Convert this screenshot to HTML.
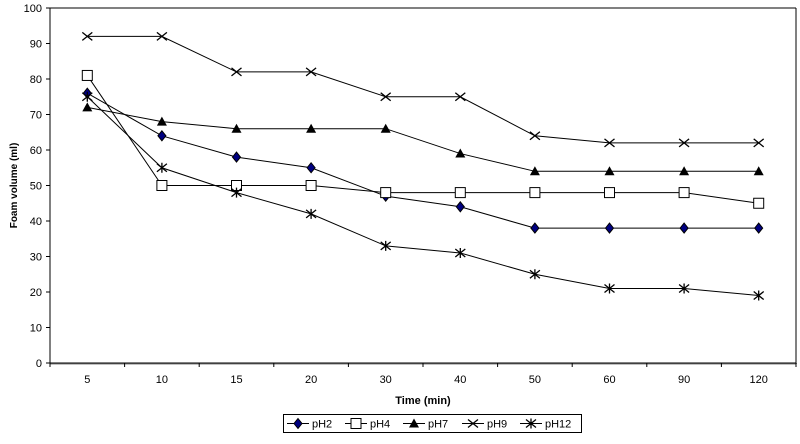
<!DOCTYPE html>
<html><head><meta charset="utf-8"><style>
body{margin:0;background:#fff;font-family:"Liberation Sans",Arial,sans-serif}
svg text{font-family:"Liberation Sans",Arial,sans-serif;font-size:11px;fill:#000}
</style></head><body>
<svg id="c" width="800" height="439" xmlns="http://www.w3.org/2000/svg"></svg>
<script>
const categories=["5","10","15","20","30","40","50","60","90","120"];
const yTicks=[0,10,20,30,40,50,60,70,80,90,100];
const seriesNames=["pH2","pH4","pH7","pH9","pH12"];
const pH2=[76,64,58,55,47,44,38,38,38,38];
const pH4=[81,50,50,50,48,48,48,48,48,45];
const pH7=[72,68,66,66,66,59,54,54,54,54];
const pH9=[92,92,82,82,75,75,64,62,62,62];
const pH12=[75,55,48,42,33,31,25,21,21,19];
const series=[pH2,pH4,pH7,pH9,pH12];
const markers=["diamond","square","triangle","x","star"];

const L=50,R=796,T=8,B=363;
const svg=document.getElementById('c');
const NS="http://www.w3.org/2000/svg";
const bw=(R-L)/categories.length;
const xs=i=>L+bw*(i+0.5);
const ys=v=>B-(v/100)*(B-T);
function mk(tag,attrs,parent){const e=document.createElementNS(NS,tag);for(const k in attrs)e.setAttribute(k,attrs[k]);(parent||svg).appendChild(e);return e;}

const axes=mk('g',{});


mk('line',{x1:R,y1:T,x2:R,y2:B+1,stroke:'#808080','stroke-width':2},axes);
mk('line',{x1:L,y1:B+1,x2:R,y2:B+1,stroke:'#808080','stroke-width':1},axes);
mk('line',{x1:L,y1:T,x2:R,y2:T,stroke:'#000'},axes);
mk('line',{x1:L,y1:T,x2:L,y2:B,stroke:'#000'},axes);
mk('line',{x1:L,y1:B,x2:R,y2:B,stroke:'#000'},axes);
yTicks.forEach(t=>{
  const y=ys(t);
  mk('line',{x1:L-4,y1:y,x2:L,y2:y,stroke:'#000'},axes);
  const tx=mk('text',{x:L-8,y:y+4,'text-anchor':'end'},axes);
  tx.textContent=t;
  
  
});
for(let i=0;i<=categories.length;i++){
  mk('line',{x1:L+bw*i,y1:B,x2:L+bw*i,y2:B+4,stroke:'#000'},axes);
}
categories.forEach((c,i)=>{
  const tx=mk('text',{x:xs(i),y:B+20,'text-anchor':'middle'},axes);
  tx.textContent=c;
  
  
});
const xt=mk('text',{x:(L+R)/2,y:B+41,'text-anchor':'middle','font-weight':'bold'});
xt.textContent='Time (min)';


const yt=mk('text',{x:0,y:0,'text-anchor':'middle','font-weight':'bold',transform:`translate(17,${(T+B)/2}) rotate(-90)`,style:'font-size:10px'});
yt.textContent='Foam volume (ml)';



function marker(type,x,y,g){
  if(type==='diamond')mk('polygon',{points:`${x},${y-5} ${x+4},${y} ${x},${y+5} ${x-4},${y}`,fill:'#000080',stroke:'#000'},g);
  else if(type==='square')mk('rect',{x:x-5,y:y-5,width:10,height:10,fill:'#fff',stroke:'#000'},g);
  else if(type==='triangle')mk('polygon',{points:`${x},${y-5} ${x+5},${y+4} ${x-5},${y+4}`,fill:'#000'},g);
  else if(type==='x'){mk('path',{d:`M${x-5},${y-4}L${x+5},${y+4}M${x-5},${y+4}L${x+5},${y-4}`,stroke:'#000','stroke-width':1.3},g);}
  else {mk('path',{d:`M${x-5},${y-4}L${x+5},${y+4}M${x-5},${y+4}L${x+5},${y-4}M${x},${y-5}L${x},${y+5}`,stroke:'#000','stroke-width':1.3},g);}
}
series.forEach((s,si)=>{
  const g=mk('g',{});
  
  
  mk('polyline',{points:s.map((v,i)=>xs(i)+','+ys(v)).join(' '),fill:'none',stroke:'#000','stroke-width':1},g);
  s.forEach((v,i)=>marker(markers[si],xs(i),ys(v),g));
});

const lg=mk('g',{});


mk('rect',{x:283.5,y:414.5,width:298,height:18,fill:'#fff',stroke:'#000'},lg);
const lx=[287,345,403,462,520];
seriesNames.forEach((n,i)=>{
  const e=mk('g',{},lg);
  
  
  const x=lx[i],y=423.5;
  mk('line',{x1:x,y1:y,x2:x+22,y2:y,stroke:'#000'},e);
  marker(markers[i],x+11,y,e);
  const t=mk('text',{x:x+25,y:y+4},e);t.textContent=n;
});
</script>
</body></html>
